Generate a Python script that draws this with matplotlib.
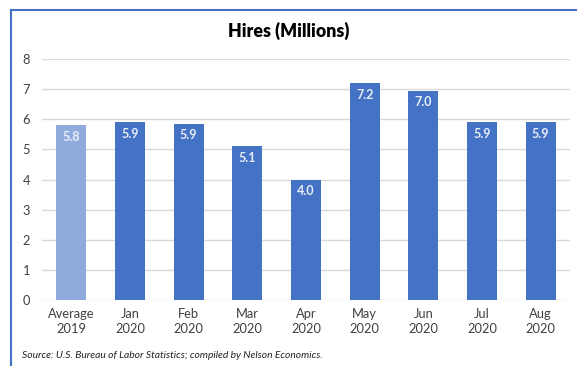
import matplotlib.pyplot as plt
from matplotlib.lines import Line2D

categories = ["Average\n2019", "Jan\n2020", "Feb\n2020", "Mar\n2020", "Apr\n2020",
              "May\n2020", "Jun\n2020", "Jul\n2020", "Aug\n2020"]
hires = [5.8, 5.9, 5.85, 5.1, 4.0, 7.2, 6.95, 5.9, 5.9]
labels = ["5.8", "5.9", "5.9", "5.1", "4.0", "7.2", "7.0", "5.9", "5.9"]
colors = ["#8FAADC"] + ["#4472C4"] * 8

plt.rcParams['font.family'] = ['Lato', 'DejaVu Sans']

fig = plt.figure(figsize=(5.77, 3.66), dpi=100)
ax = fig.add_axes([0.0728, 0.1803, 0.915, 0.6585])

x = range(len(categories))
bars = ax.bar(x, hires, width=0.51, color=colors, zorder=2)
for b, lab in zip(bars, labels):
    ax.annotate(lab, (b.get_x() + b.get_width() / 2, b.get_height()),
                xytext=(0, -4), textcoords="offset points", ha="center", va="top",
                color="#E8EEF8", fontsize=9, fontweight="bold")

ax.set_xlim(-0.5, 8.5)
ax.set_ylim(0, 8)
ax.set_yticks(range(0, 9))
ax.set_xticks(list(x))
ax.set_xticklabels(categories, fontsize=9.3, color="#404040", linespacing=1.25)
ax.tick_params(axis="y", labelsize=9.3, labelcolor="#404040", length=0, pad=14)
ax.tick_params(axis="x", length=0, pad=6)
for lab in ax.get_yticklabels():
    lab.set_horizontalalignment("left")
ax.grid(axis="y", color="#D9D9D9", linewidth=1, zorder=0)
for s in ax.spines.values():
    s.set_visible(False)

fig.text(0.5, 0.915, "Hires (Millions)", ha="center", va="center",
         fontsize=12.8, fontweight="heavy", color="#000000")
fig.text(0.038, 0.028, "Source: U.S. Bureau of Labor Statistics; compiled by Nelson Economics.",
         ha="left", va="center", fontsize=7.4, style="italic", color="#222222")

# outer chart frame (left and top edges visible)
fig.add_artist(Line2D([0.0182, 0.0182], [0, 0.9727], color="#4472C4", linewidth=1.5))
fig.add_artist(Line2D([0.0182, 1.0], [0.9727, 0.9727], color="#4472C4", linewidth=1.5))

fig.savefig("out.png", dpi=100)
